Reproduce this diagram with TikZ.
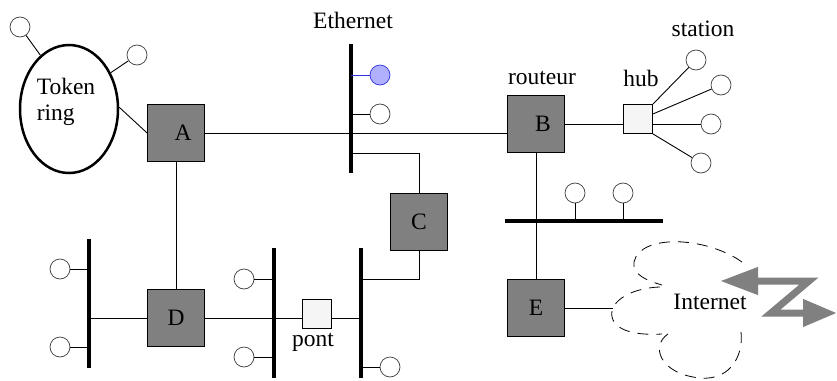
\documentclass[tikz,border=0pt]{standalone}
\usepackage{xcolor}
\usepackage{fontspec}
\setmainfont{Liberation Serif}
\usepackage{tikz}
\usetikzlibrary{shapes.geometric, arrows.meta}
\definecolor{boxgray}{RGB}{128, 128, 128}
\definecolor{relaygray}{RGB}{245, 245, 245}
\definecolor{hostblue}{RGB}{176, 176, 255}
\definecolor{lineblue}{RGB}{50, 50, 225}
\definecolor{hostline}{RGB}{60, 60, 60}

\tikzset{
	box/.style={draw, fill=boxgray, line width=0.8pt, minimum size=57pt, inner sep=0pt},
	relay/.style={draw, fill=relaygray, line width=0.8pt, minimum size=29pt, inner sep=0pt},
	host/.style={draw=hostline, circle, fill=white, line width=0.7pt, minimum size=20pt, inner sep=0pt},
	bus/.style={line width=4pt},
	wire/.style={line width=0.9pt},
	cloud/.style={line width=0.8pt, dash pattern=on 11pt off 8pt},
	lbl/.style={inner sep=0pt},
}

\begin{document}
\begin{tikzpicture}[x=1pt, y=-1pt, every node/.style={font=\fontsize{23.5}{26}\selectfont}]
			\useasboundingbox (0,0) rectangle (837,380);
			
			% token ring
			\node[draw, ellipse, line width=2.5pt, minimum width=98pt, minimum height=128pt] (ring) at (69,109) {};
			\node[lbl, align=left] (ringlbl) at (66,102) {Token\\ring};
			\node[host] (r1) at (20,27) {};
			\node[host] (r2) at (137,55) {};
			
			% routers and relays
			\node[box] (A) at (176,133) {\hspace*{14pt}A};
			\node[box] (B) at (536,124) {\hspace*{14pt}B};
			\node[box] (C) at (419,222) {C};
			\node[box] (D) at (176,318) {D};
			\node[box] (E) at (536,308) {E};
			\node[relay] (hub) at (638,119) {};
			\node[relay] (pont) at (317,314) {};
			
			% hosts
			\node[host, fill=hostblue, draw=lineblue] (eth1) at (380,75) {};
			\node[host] (eth2) at (380,114) {};
			\node[host] (st1) at (696,60) {};
			\node[host] (st2) at (721,85) {};
			\node[host] (st3) at (711,124) {};
			\node[host] (st4) at (701,163) {};
			\node[host] (lan1) at (575,193) {};
			\node[host] (lan2) at (623,193) {};
			\node[host] (d1) at (60,269) {};
			\node[host] (d2) at (60,347) {};
			\node[host] (p1) at (244,279) {};
			\node[host] (p2) at (244,357) {};
			\node[host] (c1) at (390,367) {};
			
			% buses
			\coordinate (ethtop) at (351,44);
			\coordinate (ethbot) at (351,173);
			\coordinate (lanleft) at (505,221);
			\coordinate (lanright) at (663,221);
			\coordinate (dtop) at (89,239);
			\coordinate (dbot) at (89,368);
			\coordinate (ptop) at (274,248);
			\coordinate (pbot) at (274,378);
			\coordinate (ctop) at (361,248);
			\coordinate (cbot) at (361,378);
			\draw[bus] (ethtop) -- (ethbot);
			\draw[bus] (lanleft) -- (lanright);
			\draw[bus] (dtop) -- (dbot);
			\draw[bus] (ptop) -- (pbot);
			\draw[bus] (ctop) -- (cbot);
			
			% links
			\draw[wire] (r1) -- (ring.118);
			\draw[wire] (r2) -- (ring.41);
			\draw[wire] (ring.2) -- (A.west);
			\draw[wire] (A.east) -- (A.east -| B.west);
			\draw[wire, lineblue] (eth1 -| ethtop) -- (eth1);
			\draw[wire] (eth2 -| ethtop) -- (eth2);
			\coordinate (ethC) at (351,153);
			\draw[wire] (ethC) -| (C.north);
			\draw[wire] (B.east) -- (B.east -| hub.west);
			\draw[wire] (hub.north east) -- (st1);
			\draw[wire] ([yshift=5pt]hub.east) -- (st2);
			\draw[wire] ([yshift=-5pt]hub.east) -- (st3);
			\draw[wire] (hub.south east) -- (st4);
			\draw[wire] (B.south) -- (E.north);
			\draw[wire] (lan1) -- (lan1 |- lanleft);
			\draw[wire] (lan2) -- (lan2 |- lanleft);
			\draw[wire] (A.south) -- (D.north);
			\draw[wire] (dtop |- D.west) -- (D.west);
			\draw[wire] (d1) -- (d1 -| dtop);
			\draw[wire] (d2) -- (d2 -| dtop);
			\draw[wire] (D.east) -- (D.east -| pont.west);
			\draw[wire] (pont.east |- D.east) -- (ctop |- D.east);
			\draw[wire] (p1) -- (p1 -| ptop);
			\draw[wire] (p2) -- (p2 -| ptop);
			\coordinate (Cbus) at (361,279);
			\draw[wire] (C.south) |- (Cbus);
			\draw[wire] (c1) -- (c1 -| ctop);
			
			% internet cloud
			\coordinate (net) at (613,308);
			\draw[wire] (E.east) -- (net);
			\draw[cloud] (742,262) .. controls (705,236) and (640,234) .. (634,262) .. controls (632,275) and (648,281) .. (662,285);
			\draw[cloud] (660,287) .. controls (628,288) and (606,304) .. (613,320) .. controls (620,334) and (645,335) .. (662,334);
			\draw[cloud] (668,334) .. controls (650,346) and (660,374) .. (700,378) .. controls (732,381) and (746,352) .. (740,326);
			\draw[boxgray, line width=7pt, line join=miter, {Triangle[length=38pt, width=26pt]}-{Triangle[length=34pt, width=26pt]}] (720,281) -- (809,281) -- (771,313) -- (837,313);
			
			% labels
			\node[lbl] (ethlbl) at (353,20) {Ethernet};
			\node[lbl] (routlbl) at (542,78) {routeur};
			\node[lbl] (hublbl) at (641,78) {hub};
			\node[lbl] (stlbl) at (703,29) {station};
			\node[lbl] (pontlbl) at (313,342) {pont};
			\node[lbl] (netlbl) at (710,302) {Internet};
		\end{tikzpicture}
\end{document}
